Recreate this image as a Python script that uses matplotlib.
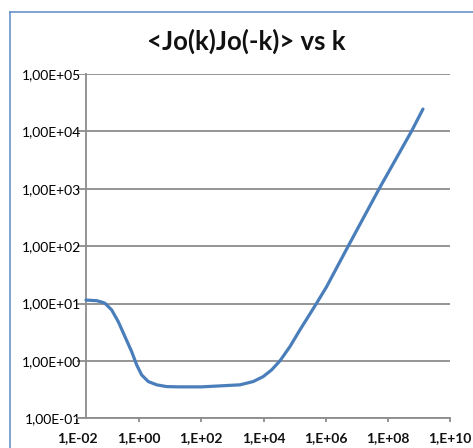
import matplotlib
matplotlib.use("Agg")
import matplotlib.pyplot as plt
from matplotlib.lines import Line2D

plt.rcParams["font.family"] = ["Lato", "DejaVu Sans"]

# correlator <Jo(k)Jo(-k)> against k
k_vals = [0.0195, 0.0430, 0.0592, 0.0794, 0.131, 0.213, 0.349, 0.574, 0.832,
          1.20, 1.96, 3.66, 7.66, 18.1, 100, 396, 1740, 4670, 9770, 18200,
          33700, 70600, 1.48e5, 2.74e5, 5.09e5, 1.07e6, 5.30e6, 5.25e7,
          5.75e8, 1.35e9]
jj_vals = [11.5, 11.2, 10.7, 10.1, 7.71, 4.82, 2.65, 1.45, 0.851,
           0.571, 0.437, 0.383, 0.357, 0.353, 0.353, 0.367, 0.383, 0.437,
           0.533, 0.697, 1.0, 1.77, 3.46, 5.89, 10.1, 19.6, 100, 1000,
           1.0e4, 2.45e4]

x_ticks = [1e-2, 1e0, 1e2, 1e4, 1e6, 1e8, 1e10]
x_labels = ["1,E-02", "1,E+00", "1,E+02", "1,E+04", "1,E+06", "1,E+08", "1,E+10"]
y_ticks = [1e-1, 1e0, 1e1, 1e2, 1e3, 1e4, 1e5]
y_labels = ["1,00E-01", "1,00E+00", "1,00E+01", "1,00E+02", "1,00E+03",
            "1,00E+04", "1,00E+05"]

LINE = "#4A7EBB"
GRID = "#8C8C8C"

W, H = 473, 448
fig = plt.figure(figsize=(W / 100, H / 100), dpi=100)
ax = fig.add_axes([77 / W, 1 - 418.3 / H, (450 - 77) / W, (418.3 - 74) / H])

ax.plot(k_vals, jj_vals, color=LINE, lw=2.3, solid_capstyle="round",
        solid_joinstyle="round", zorder=3)

ax.set_xscale("log")
ax.set_yscale("log")
ax.set_xlim(1e-2, 1e10)
ax.set_ylim(1e-1, 1e5)
ax.set_xticks(x_ticks)
ax.set_xticklabels(x_labels)
ax.set_yticks(y_ticks)
ax.set_yticklabels(y_labels)
ax.minorticks_off()

for lab in ax.get_xticklabels() + ax.get_yticklabels():
    lab.set_fontweight("bold")
    lab.set_fontsize(10)
    lab.set_color("#111111")

ax.grid(axis="y", color=GRID, lw=1.3, zorder=1)
ax.set_axisbelow(True)

for s in ["top", "right"]:
    ax.spines[s].set_visible(False)
ax.spines["left"].set_position(("data", 0.0188))
for s in ["left", "bottom"]:
    ax.spines[s].set_color(GRID)
    ax.spines[s].set_linewidth(1.3)

ax.tick_params(axis="y", length=0, pad=3)
ax.tick_params(axis="x", length=3, width=1.3, color=GRID, pad=7)

fig.text(246 / W, 1 - 41 / H, "<Jo(k)Jo(-k)> vs k", ha="center", va="center",
         fontsize=18.5, fontweight="bold", color="#111111")

# chart area frame
fig.add_artist(Line2D([9.5 / W, 9.5 / W], [0, 1 - 12.5 / H],
                      transform=fig.transFigure, color="#6A93C8", lw=1.2))
fig.add_artist(Line2D([9.5 / W, 1], [1 - 12.5 / H, 1 - 12.5 / H],
                      transform=fig.transFigure, color="#6A93C8", lw=1.2))

fig.savefig("out.png", dpi=100, facecolor="white")
